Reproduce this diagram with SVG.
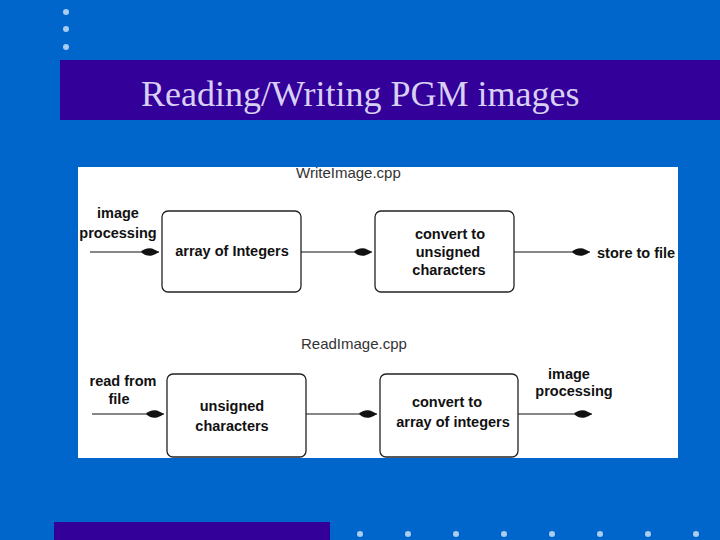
<svg xmlns="http://www.w3.org/2000/svg" width="720" height="540" viewBox="0 0 720 540">
<style>
.bg{fill:#0066cc}
.band{fill:#330099}
.dot{fill:#a8cdf0}
.title{font-family:"Liberation Serif",serif;font-size:36px;fill:#d8d0f4}
.panel{fill:#ffffff}
.box{fill:#ffffff;stroke:#222;stroke-width:1.3}
.lbl{font-family:"Liberation Sans",Arial,sans-serif;font-size:14.5px;font-weight:bold;fill:#111;text-anchor:middle}
.lbls{font-family:"Liberation Sans",Arial,sans-serif;font-size:14.5px;font-weight:bold;fill:#111}
.file{font-family:"Liberation Sans",Arial,sans-serif;font-size:15px;fill:#333}
.conn{stroke:#111;stroke-width:1.2;fill:none;marker-end:url(#leaf)}
</style>
<defs>
<marker id="leaf" markerUnits="userSpaceOnUse" markerWidth="20" markerHeight="10" refX="18" refY="5" orient="auto">
<path d="M0,5 Q4,0.5 11,1.5 Q15,3 18,5 Q15,7 11,8.5 Q4,9.5 0,5 Z" fill="#111"/>
</marker>
</defs>
<rect class="bg" x="0" y="0" width="720" height="540"/>
<g id="decor">
<circle class="dot" cx="66" cy="12" r="3"/>
<circle class="dot" cx="66" cy="29" r="3"/>
<circle class="dot" cx="66" cy="47" r="3"/>
<rect class="band" x="60" y="60" width="660" height="60"/>
<text class="title" x="141" y="106">Reading/Writing PGM images</text>
<rect class="band" x="54" y="522" width="276" height="18"/>
<circle class="dot" cx="360" cy="534" r="3"/>
<circle class="dot" cx="408" cy="534" r="3"/>
<circle class="dot" cx="456" cy="534" r="3"/>
<circle class="dot" cx="504" cy="534" r="3"/>
<circle class="dot" cx="552" cy="534" r="3"/>
<circle class="dot" cx="600" cy="534" r="3"/>
<circle class="dot" cx="648" cy="534" r="3"/>
<circle class="dot" cx="696" cy="534" r="3"/>
</g>
<rect class="panel" x="78" y="167" width="600" height="291"/>
<text class="file" x="296" y="178">WriteImage.cpp</text>
<text class="file" x="301" y="349">ReadImage.cpp</text>
<g id="connectors">
<line class="conn" x1="90" y1="252" x2="159" y2="252"/>
<line class="conn" x1="301" y1="252" x2="372" y2="252"/>
<line class="conn" x1="514" y1="252" x2="590" y2="252"/>
<line class="conn" x1="92" y1="414" x2="164" y2="414"/>
<line class="conn" x1="306" y1="414" x2="377" y2="414"/>
<line class="conn" x1="518" y1="414" x2="592" y2="414"/>
</g>
<g id="in-write"><text class="lbl" x="118" y="218">image</text><text class="lbl" x="118" y="238">processing</text></g>
<g id="array-int"><rect class="box" x="162" y="211" width="139" height="81" rx="6"/><text class="lbl" x="232" y="256">array of Integers</text></g>
<g id="conv-uchar"><rect class="box" x="375" y="211" width="139" height="81" rx="6"/><text class="lbl" x="450" y="239">convert to</text><text class="lbl" x="448" y="257">unsigned</text><text class="lbl" x="449" y="275">characters</text></g>
<g id="store"><text class="lbls" x="597" y="258">store to file</text></g>
<g id="in-read"><text class="lbl" x="123" y="386">read from</text><text class="lbl" x="119" y="404">file</text></g>
<g id="uchar"><rect class="box" x="167" y="374" width="139" height="83" rx="6"/><text class="lbl" x="232" y="411">unsigned</text><text class="lbl" x="232" y="431">characters</text></g>
<g id="conv-int"><rect class="box" x="380" y="374" width="138" height="83" rx="6"/><text class="lbl" x="447" y="407">convert to</text><text class="lbl" x="453" y="427">array of integers</text></g>
<g id="out-read"><text class="lbl" x="569" y="379">image</text><text class="lbl" x="574" y="396">processing</text></g>
</svg>
